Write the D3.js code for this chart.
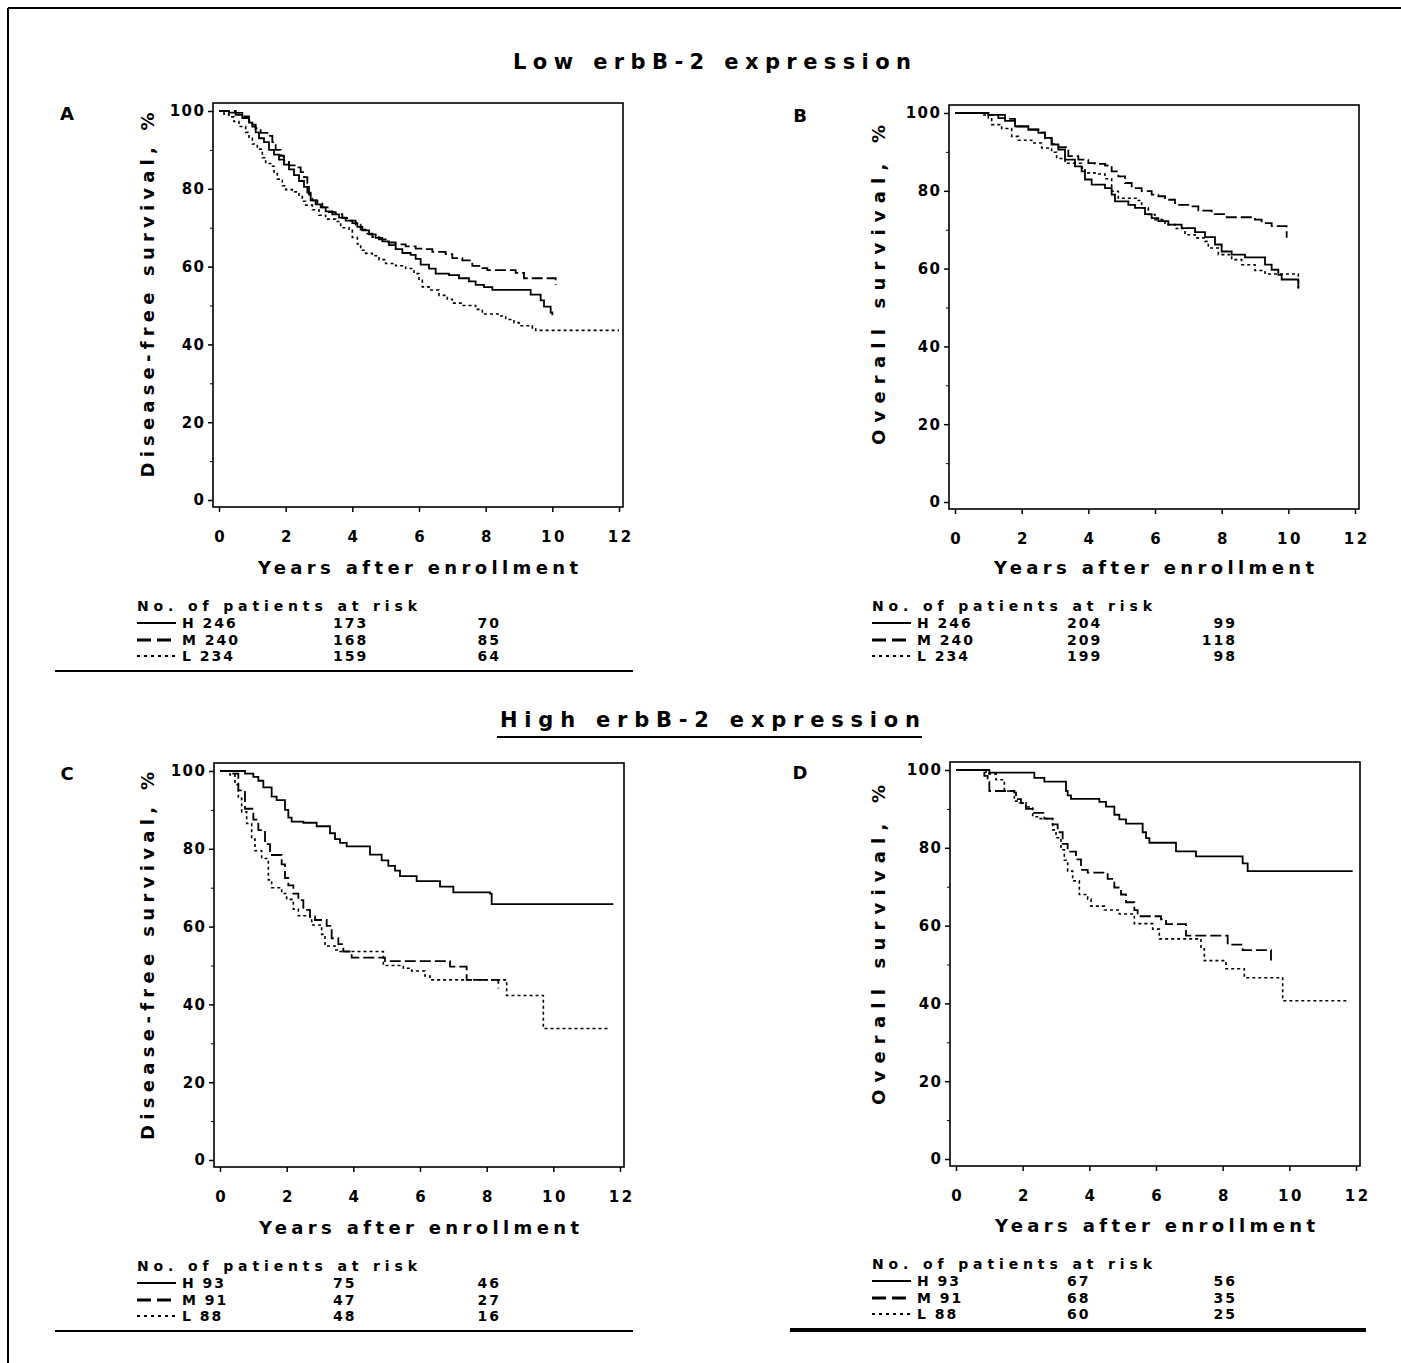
<!DOCTYPE html>
<html>
<head>
<meta charset="utf-8">
<script src="https://cdn.jsdelivr.net/npm/d3@7"></script>
<style>
  body { margin: 0; background: #fff; }
  svg text { font-family: "DejaVu Sans", "Liberation Sans", Arial, sans-serif; font-weight: bold; fill: #000; }
</style>
</head>
<body>
<svg id="fig" width="1401" height="1363"></svg>
<script>
// Kaplan-Meier curves: [years, survival %]
const lowDfsH = [[0,100],[0.3,99.6],[0.5,99],[0.7,98.2],[0.9,97],[1.0,96],[1.1,94.5],[1.2,93],[1.35,92],[1.5,90],[1.65,88.8],[1.8,87.5],[1.95,86.2],[2.1,85],[2.25,83.5],[2.4,82],[2.55,80.5],[2.65,79],[2.75,77],[2.9,76],[3.05,75.2],[3.2,74.2],[3.4,73.4],[3.6,72.6],[3.8,71.8],[4.0,71.2],[4.15,70.2],[4.3,69.3],[4.5,68.3],[4.7,67.4],[4.9,66.5],[5.1,65.5],[5.3,64.5],[5.5,63.5],[5.75,63],[5.9,62],[6.05,60.5],[6.3,59.5],[6.5,58.2],[6.9,57.8],[7.2,57],[7.5,56.2],[7.7,55.3],[7.95,54.7],[8.2,54],[9.35,52.8],[9.65,51.3],[9.75,49.7],[9.95,48.2],[10.0,47.5]];
const lowDfsM = [[0,100],[0.5,99.5],[0.7,98.6],[0.9,97.5],[1.0,96.5],[1.1,95.5],[1.25,94.4],[1.5,93.6],[1.6,92],[1.7,90],[1.85,88.5],[1.95,87.2],[2.1,86],[2.3,85.5],[2.45,84.3],[2.55,83],[2.65,81.5],[2.7,78.5],[2.8,77],[2.95,76.2],[3.1,75.2],[3.3,74],[3.5,73.5],[3.7,72.5],[3.9,71.8],[4.1,70.8],[4.25,69.5],[4.4,68.5],[4.6,67.6],[4.8,67],[5.0,66.2],[5.3,65.7],[5.6,65.2],[5.9,64.6],[6.1,64.5],[6.4,63.8],[6.8,63.2],[7.0,62.2],[7.3,61.6],[7.6,60.2],[7.9,59.6],[8.05,59.1],[8.9,58.4],[9.15,57],[10.1,55.3]];
const lowDfsL = [[0,100],[0.15,99.2],[0.3,98.5],[0.45,97.3],[0.6,96],[0.8,94.5],[0.9,93],[1.0,91.5],[1.15,90.2],[1.3,88],[1.4,86.5],[1.55,85.8],[1.65,84.3],[1.75,82.5],[1.9,80.8],[2.0,79.8],[2.2,79.2],[2.4,78],[2.5,76.8],[2.6,75.8],[2.8,74.6],[3.0,73.2],[3.2,72.2],[3.5,71.6],[3.65,70],[3.9,69.3],[4.0,67.5],[4.15,65.8],[4.25,64.2],[4.4,63.4],[4.6,62.8],[4.8,61.8],[5.0,60.8],[5.3,60.2],[5.6,59.5],[5.85,58.2],[6.0,56.5],[6.1,54.8],[6.3,54],[6.6,52.6],[6.85,51.6],[7.0,50.6],[7.3,50],[7.7,49],[7.9,47.8],[8.4,47.3],[8.6,46.4],[8.85,45.6],[9.0,44.8],[9.4,44],[9.5,43.6],[12.0,43.6]];

const lowOsH = [[0,100],[1.0,99.5],[1.3,98.7],[1.5,98],[1.8,96.6],[2.2,95.7],[2.5,94.9],[2.7,93.6],[2.9,91.9],[3.1,90.6],[3.3,88],[3.6,86.3],[3.8,85],[3.9,82.9],[4.1,81.6],[4.5,80.7],[4.7,79],[4.8,77.3],[5.2,76.4],[5.4,75.6],[5.7,74],[5.9,73],[6.1,72.2],[6.4,71.3],[6.8,70.4],[7.2,69.4],[7.5,68.1],[7.8,66.2],[8.0,64.4],[8.3,63.6],[8.7,62.9],[9.3,61],[9.5,59.7],[9.7,58.4],[9.8,57.2],[10.3,57.2],[10.3,55]];
const lowOsM = [[0,100],[1.0,99.5],[1.5,98.5],[1.8,96.5],[2.2,95.8],[2.5,95],[2.7,93.5],[2.9,92],[3.1,91.2],[3.4,88.9],[3.7,88],[4.0,87.1],[4.2,86.9],[4.5,86.5],[4.7,85],[4.9,83.7],[5.1,82],[5.3,80.7],[5.6,79.9],[5.9,79],[6.1,78.6],[6.3,77.7],[6.6,76.4],[7.0,76],[7.3,74.9],[7.7,74],[8.1,73.2],[9.0,72.6],[9.2,71.7],[9.5,70.9],[9.95,70.9],[9.95,67.9]];
const lowOsL = [[0,100],[0.8,99.5],[1.0,98.5],[1.1,97],[1.4,96],[1.7,94],[1.9,93],[2.3,92.3],[2.6,91],[2.9,89.9],[3.05,88.3],[3.3,87.1],[3.8,85.9],[3.9,84.6],[4.2,84.3],[4.5,83.1],[4.7,79.9],[4.9,78.1],[5.5,77.5],[5.6,75.6],[5.8,73.9],[6.0,72.6],[6.3,71.3],[6.6,70.3],[6.9,68.7],[7.2,67.9],[7.5,67],[7.6,65.3],[7.9,63.6],[8.3,62.3],[8.6,61],[9.0,59.5],[9.3,58.6],[10.3,58.6],[10.3,54.2]];

const highDfsH = [[0,100],[0.75,99.3],[1.0,98.5],[1.15,97.5],[1.3,95.8],[1.55,93.4],[1.7,92.5],[1.95,90],[2.05,88],[2.15,87],[2.5,86.7],[2.9,85.8],[3.3,84],[3.45,82.5],[3.6,81.5],[3.8,80.6],[4.5,78.5],[4.85,77],[5.05,75.6],[5.25,74.4],[5.4,73],[5.9,71.7],[6.6,70.3],[7.0,68.8],[8.1,68.5],[8.15,65.8],[11.8,65.8]];
const highDfsM = [[0,100],[0.3,99.3],[0.55,95],[0.75,90.3],[1.0,87.5],[1.15,84.8],[1.35,81.2],[1.5,78.4],[1.85,76],[1.95,72.5],[2.05,70.6],[2.2,68.5],[2.35,66.8],[2.5,64.3],[2.7,62.6],[2.85,61.7],[3.2,60.2],[3.35,57],[3.55,55.5],[3.7,53.6],[3.95,52],[4.95,51.1],[6.9,49.7],[7.4,46.3],[8.35,46.3],[8.35,44.1]];
const highDfsL = [[0,100],[0.3,99],[0.45,96.5],[0.55,93],[0.65,89.5],[0.8,86.5],[0.95,82.5],[1.05,79.5],[1.25,77.5],[1.45,72],[1.55,70],[1.85,68.5],[2.0,67],[2.2,64.5],[2.35,62.8],[2.7,62],[2.75,60.4],[3.05,58],[3.15,55],[3.45,54],[3.6,53.6],[4.9,50],[5.5,49.3],[5.75,48.6],[6.15,47.3],[6.3,46.3],[8.6,42.3],[9.7,33.8],[11.7,33.8]];

const highOsH = [[0,100],[1.0,99.3],[2.35,98],[2.65,97],[3.3,94.6],[3.35,93.5],[3.45,92.6],[4.3,91.8],[4.5,90.6],[4.75,88.5],[4.9,87.3],[5.1,86.2],[5.6,84],[5.7,82.5],[5.8,81.3],[6.6,79.1],[7.2,77.8],[8.6,76],[8.75,74],[11.9,74]];
const highOsM = [[0,100],[0.85,98.5],[0.95,97],[1.0,94.6],[1.75,94.2],[1.8,92.5],[1.95,91.5],[2.1,90],[2.3,89],[2.65,87.5],[2.9,86],[3.05,84],[3.2,81],[3.35,79],[3.6,77],[3.75,74.3],[3.95,73.6],[4.55,72],[4.75,69.8],[4.95,68],[5.1,66],[5.35,64],[5.45,62.4],[6.15,61.6],[6.3,60.4],[6.9,57.4],[8.15,55.1],[8.6,53.7],[9.45,53.7],[9.45,51]];
const highOsL = [[0,100],[0.9,99],[1.2,97.5],[1.45,94.6],[1.75,92],[1.9,91.6],[2.1,90.5],[2.3,88],[2.5,87.5],[2.9,84.6],[3.0,82.6],[3.15,79.5],[3.25,76.8],[3.35,74],[3.5,71.5],[3.7,68],[3.95,66.8],[4.05,65],[4.45,64],[4.9,63],[5.35,60.5],[5.9,59.1],[6.1,56.6],[7.35,54],[7.45,51],[8.1,48.9],[8.65,46.6],[9.8,40.7],[11.75,40.7]];

// numbers at risk: rows H, M, L; columns at 0, ~5, ~10 years
const groups = ['H', 'M', 'L'];
const riskLowDfs = [[246, 173, 70], [240, 168, 85], [234, 159, 64]];
const riskLowOs = [[246, 204, 99], [240, 209, 118], [234, 199, 98]];
const riskHighDfs = [[93, 75, 46], [91, 47, 27], [88, 48, 16]];
const riskHighOs = [[93, 67, 56], [91, 68, 35], [88, 60, 25]];

const xTicks = [0, 2, 4, 6, 8, 10, 12];
const yTicks = [0, 20, 40, 60, 80, 100];
const yMinor = [10, 30, 50, 70, 90];

const svg = d3.select('#fig');

// frame
svg.append('line').attr('x1', 8).attr('x2', 1401).attr('y1', 8).attr('y2', 8).attr('stroke', '#000').attr('stroke-width', 2);
svg.append('line').attr('x1', 8).attr('x2', 8).attr('y1', 8).attr('y2', 1363).attr('stroke', '#000').attr('stroke-width', 2);

// section titles
svg.append('text').
attr('x', 712).attr('y', 62).
attr('text-anchor', 'middle').attr('dominant-baseline', 'central').
attr('font-size', 21).attr('textLength', 398).attr('lengthAdjust', 'spacing').
text('Low erbB-2 expression');

svg.append('text').
attr('x', 710).attr('y', 720).
attr('text-anchor', 'middle').attr('dominant-baseline', 'central').
attr('font-size', 21).attr('textLength', 420).attr('lengthAdjust', 'spacing').
text('High erbB-2 expression');
svg.append('line').attr('x1', 497).attr('x2', 922).attr('y1', 737).attr('y2', 737).attr('stroke', '#000').attr('stroke-width', 2);

const styles = {
  H: { dash: null, width: 1.8 },
  M: { dash: '11,4', width: 1.8 },
  L: { dash: '3,3', width: 1.6 } };

const panels = [
{ id: 'A', curves: [lowDfsH, lowDfsM, lowDfsL], risk: riskLowDfs, ylabel: 'Disease-free survival, %',
  bx: 213, by: 103, ylx: 147, yly: 295, yll: 365, xly: 567, right: false,
  rt: 606, rows: [623, 640, 656], rule: { x1: 55, x2: 633, y: 671, w: 2 } },
{ id: 'B', curves: [lowOsH, lowOsM, lowOsL], risk: riskLowOs, ylabel: 'Overall survival, %',
  bx: 949, by: 105, ylx: 878, yly: 285, yll: 320, xly: 567, right: true,
  rt: 606, rows: [623, 640, 656], rule: null },
{ id: 'C', curves: [highDfsH, highDfsM, highDfsL], risk: riskHighDfs, ylabel: 'Disease-free survival, %',
  bx: 214, by: 763, ylx: 147, yly: 956, yll: 368, xly: 1227, right: false,
  rt: 1266, rows: [1283, 1300, 1316], rule: { x1: 55, x2: 633, y: 1331, w: 2 } },
{ id: 'D', curves: [highOsH, highOsM, highOsL], risk: riskHighOs, ylabel: 'Overall survival, %',
  bx: 950, by: 762, ylx: 878, yly: 945, yll: 320, xly: 1225, right: true,
  rt: 1264, rows: [1281, 1298, 1314], rule: { x1: 790, x2: 1366, y: 1330, w: 4 } }];


const boxW = 410;
const boxH = 404;

panels.forEach(function (p) {
  const x = d3.scaleLinear().domain([0, 12]).range([p.bx + 6, p.bx + 406]);
  const y = d3.scaleLinear().domain([0, 100]).range([p.by + 397, p.by + 8]);

  svg.append('text').
  attr('x', p.right ? 800 : 67).attr('y', p.by + 10).
  attr('text-anchor', 'middle').attr('dominant-baseline', 'central').
  attr('font-size', 18).
  text(p.id);

  svg.append('rect').
  attr('x', p.bx).attr('y', p.by).
  attr('width', boxW).attr('height', boxH).
  attr('fill', 'none').attr('stroke', '#000').attr('stroke-width', 1.6);

  const yAxis = svg.append('g').
  attr('transform', 'translate(' + p.bx + ',0)').
  call(d3.axisLeft(y).tickValues(yTicks).tickSize(5).tickPadding(4));
  yAxis.select('.domain').remove();
  yAxis.selectAll('line').attr('stroke-width', 1.5);
  yAxis.selectAll('text').attr('font-size', 15).attr('font-family', null).
  style('letter-spacing', '1.5px').attr('dx', 1.5);

  const yMinorAxis = svg.append('g').
  attr('transform', 'translate(' + p.bx + ',0)').
  call(d3.axisLeft(y).tickValues(yMinor).tickSize(3).tickFormat(''));
  yMinorAxis.select('.domain').remove();

  const xAxis = svg.append('g').
  attr('transform', 'translate(0,' + (p.by + boxH) + ')').
  call(d3.axisBottom(x).tickValues(xTicks).tickSize(5).tickPadding(19));
  xAxis.select('.domain').remove();
  xAxis.selectAll('line').attr('stroke-width', 1.5);
  xAxis.selectAll('text').attr('font-size', 15).attr('font-family', null).
  style('letter-spacing', '2.5px').attr('dx', 1.2);

  svg.append('text').
  attr('x', p.bx + boxW / 2).attr('y', p.xly).
  attr('text-anchor', 'middle').attr('dominant-baseline', 'central').
  attr('font-size', 18).attr('textLength', 320).attr('lengthAdjust', 'spacing').
  text('Years after enrollment');

  svg.append('text').
  attr('transform', 'translate(' + p.ylx + ',' + p.yly + ') rotate(-90)').
  attr('text-anchor', 'middle').attr('dominant-baseline', 'central').
  attr('font-size', 18).attr('textLength', p.yll).attr('lengthAdjust', 'spacing').
  text(p.ylabel);

  const line = d3.line().
  x(d => x(d[0])).
  y(d => y(d[1])).
  curve(d3.curveStepAfter);

  p.curves.forEach(function (c, i) {
    const st = styles[groups[i]];
    svg.append('path').
    datum(c).
    attr('d', line).
    attr('fill', 'none').
    attr('stroke', '#000').
    attr('stroke-width', st.width).
    attr('stroke-dasharray', st.dash);
  });

  // numbers at risk
  const sx0 = p.right ? 872 : 137;
  const c2 = p.right ? 1067 : 333;
  const c3 = p.right ? 1235 : 499;

  svg.append('text').
  attr('x', sx0).attr('y', p.rt).
  attr('dominant-baseline', 'central').
  attr('font-size', 14).attr('textLength', 280).attr('lengthAdjust', 'spacing').
  text('No. of patients at risk');

  p.risk.forEach(function (r, i) {
    const ry = p.rows[i];
    svg.append('line').
    attr('x1', sx0).attr('x2', sx0 + 39).
    attr('y1', ry).attr('y2', ry).
    attr('stroke', '#000').attr('stroke-width', i === 1 ? 3 : 1.8).
    attr('stroke-dasharray', i === 1 ? '14,6' : i === 2 ? '3,4' : null);

    svg.append('text').
    attr('x', sx0 + 45).attr('y', ry).
    attr('dominant-baseline', 'central').
    attr('font-size', 14).style('letter-spacing', '2px').
    text(groups[i] + ' ' + r[0]);

    svg.append('text').
    attr('x', c2).attr('y', ry).
    attr('dominant-baseline', 'central').
    attr('font-size', 14).style('letter-spacing', '2px').
    text(r[1]);

    svg.append('text').
    attr('x', c3 + 2).attr('y', ry).
    attr('text-anchor', 'end').
    attr('dominant-baseline', 'central').
    attr('font-size', 14).style('letter-spacing', '2px').
    text(r[2]);
  });

  if (p.rule) {
    svg.append('line').
    attr('x1', p.rule.x1).attr('x2', p.rule.x2).
    attr('y1', p.rule.y).attr('y2', p.rule.y).
    attr('stroke', '#000').attr('stroke-width', p.rule.w);
  }
});
</script>
</body>
</html>
